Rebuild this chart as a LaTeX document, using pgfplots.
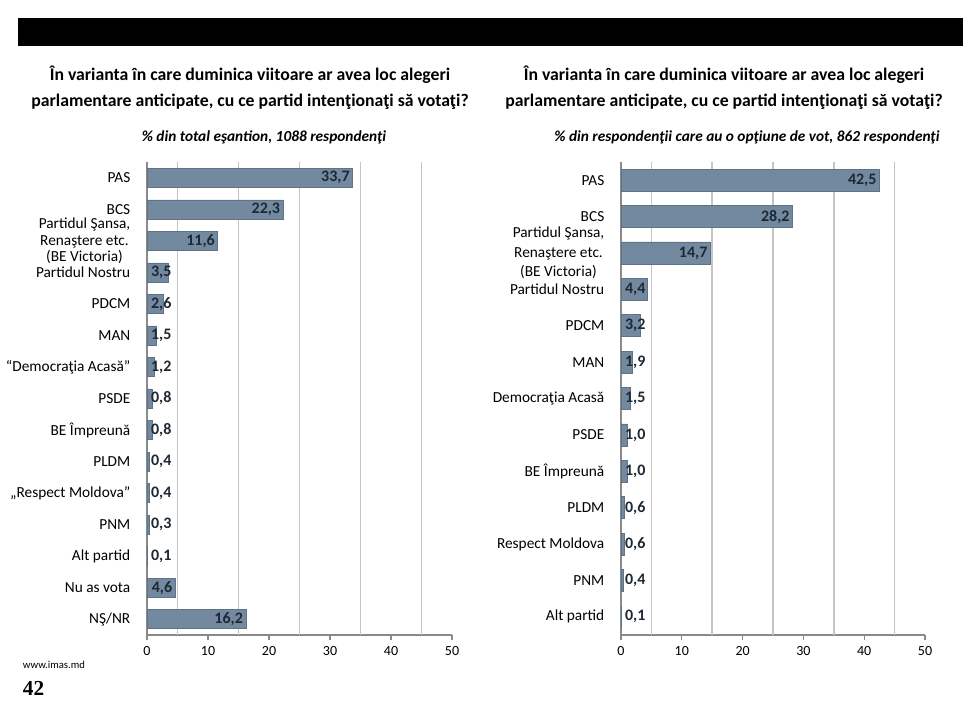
\documentclass[border=0pt]{standalone}
\usepackage{fontspec}
\setmainfont{Carlito}
\newfontfamily\serifbold{Liberation Serif}
\usepackage{pgfplots}
\pgfplotsset{compat=1.18}

\definecolor{barc}{HTML}{7289A0}
\definecolor{bard}{HTML}{5E7386}
\definecolor{gridc}{HTML}{C4C4C4}
\definecolor{axc}{HTML}{8A8A8A}
\definecolor{lblc}{HTML}{1D2833}

% common look of the two panels
\pgfplotsset{
  panel/.style={
    scale only axis,
    anchor=south west,
    height=354.75pt,
    xmin=0, xmax=50,
    y dir=reverse,
    xbar, bar width=#1,
    axis lines*=left,
    axis line style={axc, line width=0.8pt},
    xtick={0,10,...,50},
    tick align=outside,
    major tick length=4pt,
    every tick/.style={axc, line width=0.8pt},
    ytick style={draw=none},
    extra x ticks={5,15,25,35,45},
    extra x tick labels={},
    extra x tick style={grid=major, major tick length=0pt},
    major grid style={gridc, line width=1.2pt},
    /pgf/number format/assume math mode=true,
    xticklabel style={font=\fontsize{10.5}{12}\selectfont, yshift=-1pt},
    point meta=x,
    nodes near coords={\pgfmathprintnumber[fixed, fixed zerofill, precision=1, use comma]{\pgfplotspointmeta}},
    visualization depends on={rawx \as \rx},
  },
}

\begin{document}
\begin{tikzpicture}
\path[use as bounding box] (0,0) rectangle (729.75pt,528.75pt);
\fill[black] (13.5pt,494.25pt) rectangle (722.25pt,515.25pt);

\node[align=center, font=\bfseries\fontsize{13.3}{19.5}\selectfont] at (187.5pt,462.75pt)
  {În varianta în care duminica viitoare ar avea loc alegeri\\parlamentare anticipate, cu ce partid intenţionaţi să votaţi?};
\node[align=center, font=\bfseries\fontsize{13.3}{19.5}\selectfont] at (543pt,462.75pt)
  {În varianta în care duminica viitoare ar avea loc alegeri\\parlamentare anticipate, cu ce partid intenţionaţi să votaţi?};
\node[font=\bfseries\itshape\fontsize{11.5}{12.5}\selectfont] at (198pt,426pt)
  {\% din total eşantion, 1088 respondenţi};
\node[font=\bfseries\itshape\fontsize{11.5}{12.5}\selectfont] at (560.25pt,426pt)
  {\% din respondenţii care au o opţiune de vot, 862 respondenţi};

\node[anchor=west, font=\fontsize{8}{9}\selectfont, inner sep=0pt] at (17pt,30pt) {www.imas.md};
\node[anchor=west, font=\serifbold\bfseries\fontsize{16}{18}\selectfont, inner sep=0pt] at (17pt,12.75pt) {42};

\begin{axis}[
    panel=14.25pt,
    at={(110.25pt,52.5pt)},
    width=228.75pt,
    ymin=-0.5, ymax=14.5,
    ytick={0,...,14},
    yticklabel style={font=\fontsize{11.5}{12.2}\selectfont, align=center, xshift=-5pt},
    yticklabels={PAS, BCS, {Partidul Şansa,\\Renaştere etc.\\(BE Victoria)}, Partidul Nostru, PDCM, MAN,
      “Democraţia Acasă”, PSDE, BE Împreună, PLDM, „Respect Moldova”, PNM, Alt partid, Nu as vota, NŞ/NR},
    every node near coord/.append style={font=\bfseries\fontsize{12}{13}\selectfont, text=lblc,
      anchor=east, inner sep=2pt, xshift={max(0,20.5-\rx*4.575)}},
  ]
\addplot[fill=barc, draw=bard] coordinates {
  (33.7,0) (22.3,1) (11.6,2) (3.5,3) (2.6,4) (1.5,5) (1.2,6) (0.8,7)
  (0.8,8) (0.4,9) (0.4,10) (0.3,11) (0.1,12) (4.6,13) (16.2,14)
};
\end{axis}

\begin{axis}[
    panel=16.5pt,
    at={(465.75pt,52.5pt)},
    width=228pt,
    ymin=-0.5, ymax=12.5,
    ytick={0,...,12},
    yticklabel style={font=\fontsize{11.5}{14.5}\selectfont, align=center, xshift=-5pt},
    yticklabels={PAS, BCS, {Partidul Şansa,\\Renaştere etc.\\(BE Victoria)}, Partidul Nostru, PDCM, MAN,
      Democraţia Acasă, PSDE, BE Împreună, PLDM, Respect Moldova, PNM, Alt partid},
    every node near coord/.append style={font=\bfseries\fontsize{12}{13}\selectfont, text=lblc,
      anchor=east, inner sep=2pt, xshift={max(0,20.5-\rx*4.56)}},
  ]
\addplot[fill=barc, draw=bard] coordinates {
  (42.5,0) (28.2,1) (14.7,2) (4.4,3) (3.2,4) (1.9,5) (1.5,6) (1.0,7)
  (1.0,8) (0.6,9) (0.6,10) (0.4,11) (0.1,12)
};
\end{axis}
\end{tikzpicture}
\end{document}
